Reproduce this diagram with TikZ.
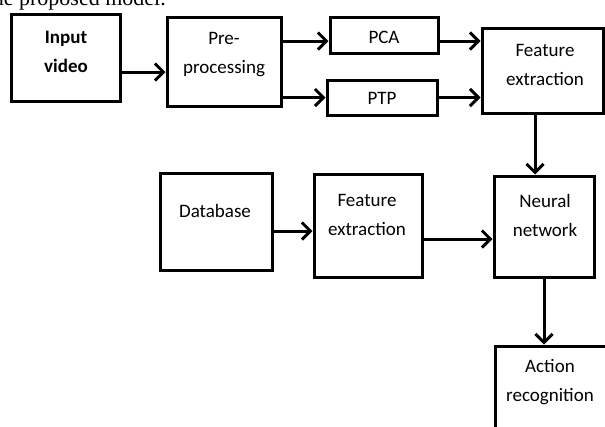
\documentclass[tikz,border=0pt]{standalone}
\usepackage{fontspec}
\setmainfont{Carlito}
\newfontfamily\capfont{Liberation Serif}
\usetikzlibrary{arrows.meta,calc}
\tikzset{
  box/.style={draw=black, line width=3bp, rectangle, inner sep=0pt},
  txt/.style={align=center, inner sep=0pt, font=\fontsize{19bp}{29bp}\selectfont},
  arr/.style={line width=3bp, -{Straight Barb[length=8.5bp,width=17bp]}},
}
\begin{document}
\begin{tikzpicture}[x=1bp,y=-1bp]
\useasboundingbox (0,0) rectangle (605,426);
\clip (0,0) rectangle (605,426);
% cut caption at top
\node[anchor=base east, inner sep=0pt, font=\capfont\fontsize{22bp}{26bp}\selectfont] (cap) at (166,5) {the proposed model.};
% boxes
\node[box, minimum width=108bp, minimum height=87bp] (iv) at (66,57.5) {};
\node[box, minimum width=114bp, minimum height=89bp] (pre) at (224,61.5) {};
\node[box, minimum width=108bp, minimum height=36bp] (pca) at (384,35) {};
\node[box, minimum width=110bp, minimum height=35bp] (ptp) at (382,97.5) {};
\node[box, minimum width=121bp, minimum height=85bp] (fe) at (542.5,70.5) {};
\node[box, minimum width=112bp, minimum height=97bp] (db) at (216,221.5) {};
\node[box, minimum width=108bp, minimum height=103bp] (fe2) at (368,225.5) {};
\node[box, minimum width=100bp, minimum height=101bp] (nn) at (544,226.5) {};
\node[box, minimum width=120bp, minimum height=110bp] (act) at (555,401) {};
% texts
\node[txt, font=\bfseries\fontsize{19bp}{29bp}\selectfont] (ivt) at (66,51.5) {Input\\video};
\node[txt] (pret) at (224,55) {Pre-\\processing};
\node[txt] (pcat) at (384,37) {PCA};
\node[txt] (ptpt) at (382,98) {PTP};
\node[txt] (fet) at (545,65) {Feature\\extraction};
\node[txt] (dbt) at (215,211) {Database};
\node[txt] (fe2t) at (367,214.5) {Feature\\extraction};
\node[txt] (nnt) at (545,215.5) {Neural\\network};
\node[txt] (actt) at (550,382.5) {Action\\recognition};
% helper coordinates
\coordinate (ya) at (0,72);
\coordinate (yb) at (0,41);
\coordinate (xc) at (535,0);
\coordinate (yd) at (0,231);
\coordinate (ye) at (0,239);
% connectors
\draw[arr] (iv.east |- ya) -- (pre.west |- ya);
\draw[arr] (pre.east |- yb) -- (pca.west |- yb);
\draw[arr] (pre.east |- ptp.west) -- (ptp.west);
\draw[arr] (pca.east |- yb) -- (fe.west |- yb);
\draw[arr] (ptp.east) -- (fe.west |- ptp.east);
\draw[arr] (fe.south -| xc) -- (nn.north -| xc);
\draw[arr] (db.east |- yd) -- (fe2.west |- yd);
\draw[arr] (fe2.east |- ye) -- (nn.west |- ye);
\draw[arr] (nn.south) -- (act.north -| nn.south);
\end{tikzpicture}
\end{document}
